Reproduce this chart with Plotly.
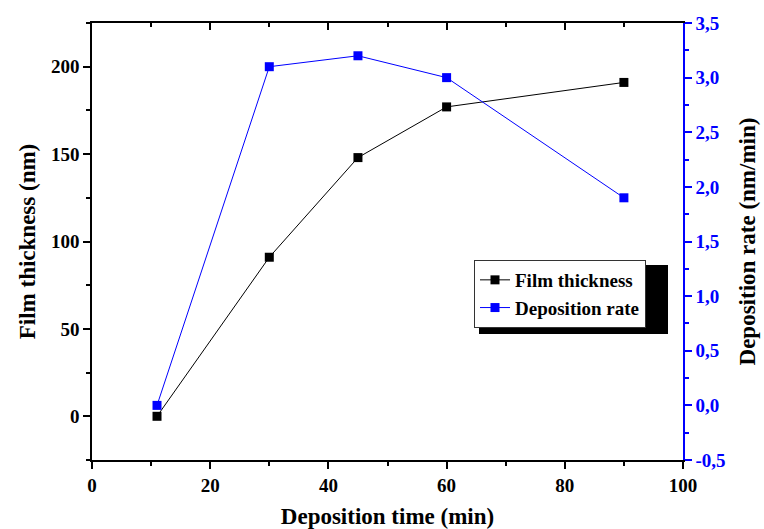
import plotly.graph_objects as go

# Data
time_min = [11, 30, 45, 60, 90]
film_thickness = [0, 91, 148, 177, 191]
deposition_rate = [0.0, 3.1, 3.2, 3.0, 1.9]

left_ticks = [0, 50, 100, 150, 200]
right_tickvals = [-0.5, 0.0, 0.5, 1.0, 1.5, 2.0, 2.5, 3.0, 3.5]
right_ticktext = ["-0,5", "0,0", "0,5", "1,0", "1,5", "2,0", "2,5", "3,0", "3,5"]
x_ticks = [0, 20, 40, 60, 80, 100]

FONT = "Liberation Serif"
BLUE = "#0000FF"

fig = go.Figure()
fig.add_trace(go.Scatter(
    x=time_min, y=film_thickness, name="Film thickness",
    mode="lines+markers", line=dict(color="black", width=1),
    marker=dict(symbol="square", size=9, color="black"),
    xaxis="x", yaxis="y"))
fig.add_trace(go.Scatter(
    x=time_min, y=deposition_rate, name="Deposition rate",
    mode="lines+markers", line=dict(color=BLUE, width=1),
    marker=dict(symbol="square", size=9, color=BLUE),
    xaxis="x", yaxis="y2"))
fig.add_trace(go.Scatter(x=[None], y=[None], xaxis="x2", yaxis="y",
                         showlegend=False, hoverinfo="skip"))

tickfont = dict(family=FONT, size=19, color="black", weight="bold")
titlefont = dict(family=FONT, size=23, color="black", weight="bold")

fig.update_layout(
    width=764, height=529,
    margin=dict(l=92, r=81, t=23, b=69, autoexpand=False),
    paper_bgcolor="white", plot_bgcolor="white",
    showlegend=True,
    legend=dict(x=(474 - 92) / 591, y=(460 - 260) / 437, xanchor="left", yanchor="top",
                bgcolor="white", bordercolor="#333333", borderwidth=1,
                font=dict(family=FONT, size=19, color="black", weight="bold"),
                tracegroupgap=0, itemwidth=30, entrywidth=176),
    xaxis=dict(range=[0, 100], tickvals=x_ticks, showgrid=False, zeroline=False,
               automargin=False,
               showline=True, linecolor="black", linewidth=1.5,
               ticks="outside", ticklen=7, tickwidth=1.5, tickcolor="black",
               minor=dict(dtick=10, ticks="outside", ticklen=4, tickwidth=1.5, tickcolor="black"),
               tickfont=tickfont,
               title=dict(text="Deposition time (min)", font=titlefont, standoff=14)),
    xaxis2=dict(range=[0, 100], overlaying="x", side="top", tickvals=x_ticks,
                automargin=False,
                showticklabels=False, showgrid=False, zeroline=False,
                showline=True, linecolor="black", linewidth=1.5,
                ticks="inside", ticklen=7, tickwidth=1.5, tickcolor="black",
                minor=dict(dtick=10, ticks="inside", ticklen=4, tickwidth=1.5, tickcolor="black")),
    yaxis=dict(range=[-25, 225], tickvals=left_ticks, showgrid=False, zeroline=False,
               automargin=False,
               showline=True, linecolor="black", linewidth=1.5,
               ticks="outside", ticklen=7, tickwidth=1.5, tickcolor="black",
               minor=dict(dtick=25, ticks="outside", ticklen=4, tickwidth=1.5, tickcolor="black"),
               tickfont=tickfont,
               title=dict(text="Film thickness (nm)", font=titlefont, standoff=9)),
    yaxis2=dict(range=[-0.5, 3.5], overlaying="y", side="right",
                automargin=False,
                tickvals=right_tickvals, ticktext=right_ticktext,
                showgrid=False, zeroline=False,
                showline=True, linecolor=BLUE, linewidth=1.5,
                ticks="outside", ticklen=7, tickwidth=1.5, tickcolor=BLUE,
                minor=dict(dtick=0.25, ticks="outside", ticklen=4, tickwidth=1.5, tickcolor=BLUE),
                tickfont=dict(family=FONT, size=19, color=BLUE, weight="bold"),
                title=dict(text="Deposition rate (nm/min)", font=titlefont, standoff=14)),
)

# legend drop shadow
fig.add_shape(type="rect", xref="paper", yref="paper",
              x0=(479 - 92) / 591, x1=(668 - 92) / 591,
              y0=(460 - 334) / 437, y1=(460 - 265) / 437,
              fillcolor="black", line=dict(width=0), layer="above")

fig.write_html("out.html", config={"displayModeBar": False},
               post_script="document.body.style.margin='0';")
